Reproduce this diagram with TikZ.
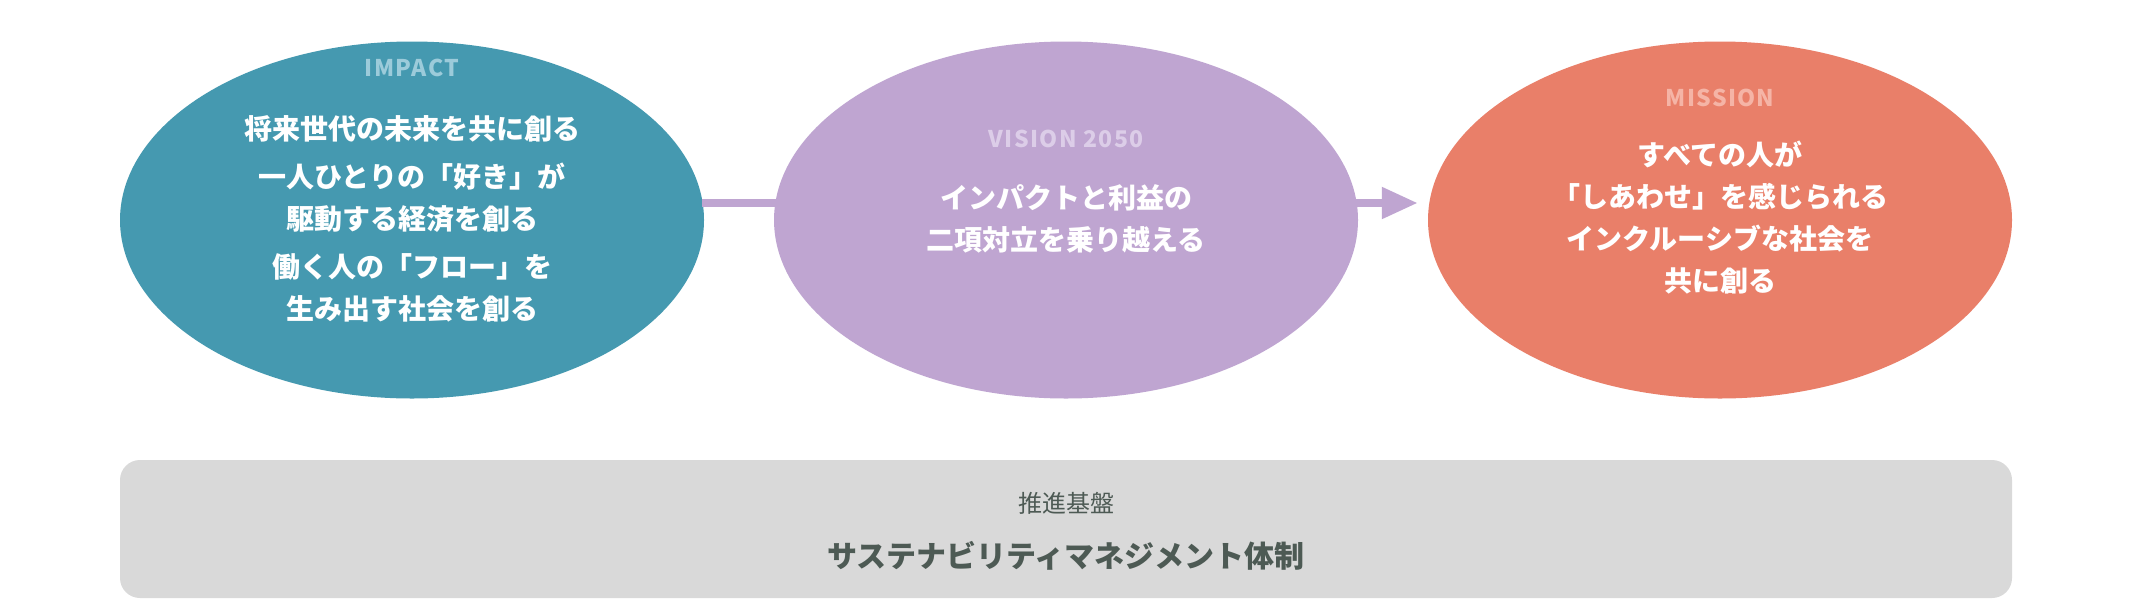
\documentclass[tikz,border=0pt]{standalone}
\usepackage{fontspec}
\setmainfont{Noto Sans CJK JP}
\usetikzlibrary{shapes.geometric,arrows.meta,calc}
\definecolor{cImpact}{HTML}{4599B0}
\definecolor{cVision}{HTML}{BFA5D1}
\definecolor{cMission}{HTML}{E97F69}
\definecolor{lImpact}{HTML}{9CCBDA}
\definecolor{lVision}{HTML}{DCCDE8}
\definecolor{lMission}{HTML}{F5B4A6}
\definecolor{cBase}{HTML}{D9D9D9}
\definecolor{cBaseText}{HTML}{4D5A54}
\begin{document}
\begin{tikzpicture}[x=1pt,y=-1pt,
  blob/.style={ellipse, minimum width=584pt, minimum height=357pt, inner sep=0pt},
  lbl/.style={font=\fontsize{23}{26}\selectfont\bfseries\addfontfeature{LetterSpace=6}},
  body/.style={font=\fontsize{28}{42}\selectfont\bfseries, text=white, align=center, inner sep=0pt},
  link/.style={line width=8pt, draw=cVision}]
\useasboundingbox (0,0) rectangle (2132,600);
\fill[white] (0,0) rectangle (2132,600);
% ellipses
\node[blob, fill=cImpact] (e1) at (412,220) {};
\node[blob, fill=cVision] (e2) at (1066,220) {};
\node[blob, fill=cMission] (e3) at (1720,220) {};
% connectors
\draw[link] ($(e1.east)+(-2,-17)$) -- ($(e2.west)+(2,-17)$);
\draw[link, -{Triangle[length=36pt,width=30pt]}] ($(e2.east)+(-2,-17)$) -- ($(e3.west)+(-10,-17)$);
% impact texts
\node[lbl, text=lImpact] (t1) at (412,68) {IMPACT};
\node[body] (t1a) at (412,129) {将来世代の未来を共に創る};
\node[body] (t1b) at (412,197.5) {一人ひとりの「好き」が\\駆動する経済を創る};
\node[body] (t1c) at (412,287.5) {働く人の「フロー」を\\生み出す社会を創る};
% vision texts
\node[lbl, text=lVision] (t2) at (1066,139) {VISION 2050};
\node[body] (t2a) at (1066,219) {インパクトと利益の\\二項対立を乗り越える};
% mission texts
\node[lbl, text=lMission] (t3) at (1720,98) {MISSION};
\node[body] (t3a) at (1720,218) {すべての人が\\「しあわせ」を感じられる\\インクルーシブな社会を\\共に創る};
% base
\node[rectangle, rounded corners=20pt, fill=cBase, minimum width=1892pt, minimum height=138pt, inner sep=0pt] (base) at (1066,529) {};
\node[font=\fontsize{24}{27}\selectfont, text=cBaseText] (b1) at (1066,503) {推進基盤};
\node[font=\fontsize{30}{33}\selectfont\bfseries, text=cBaseText] (b2) at (1066,556) {サステナビリティマネジメント体制};
\end{tikzpicture}
\end{document}
